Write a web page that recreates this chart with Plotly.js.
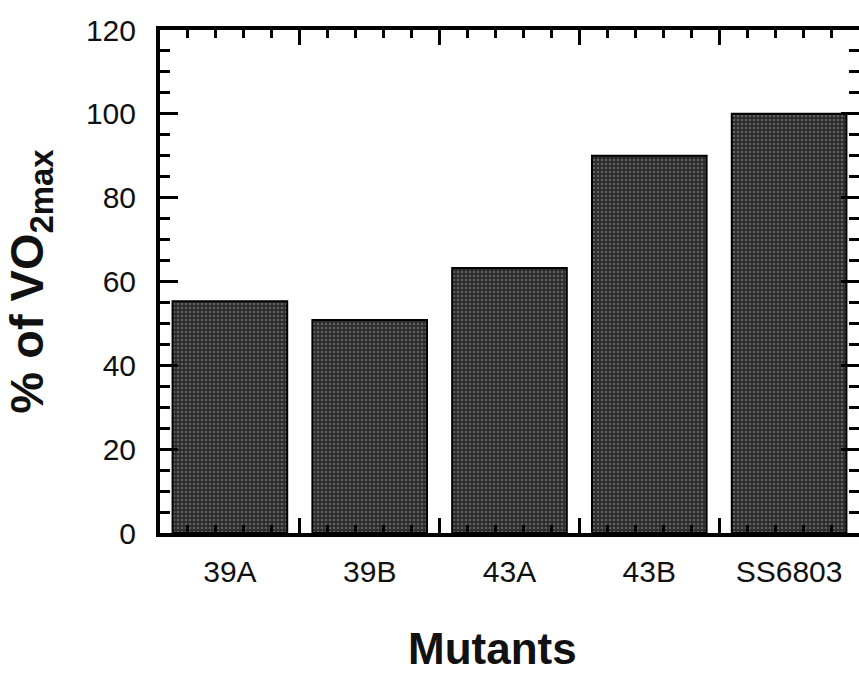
<!DOCTYPE html>
<html><head><meta charset="utf-8">
<script src="https://cdn.plot.ly/plotly-3.0.1.min.js"></script>
<style>body{margin:0;background:#fff}</style>
</head><body><div id="chart" style="width:859px;height:673px"></div>
<script>
const categories = ['39A', '39B', '43A', '43B', 'SS6803'];
const values = [55.3, 50.8, 63.2, 90.0, 100.0];
const yTitle = '% of VO<sub>2max</sub>';
const xTitle = 'Mutants';

const font = 'Liberation Sans, Arial, Helvetica, sans-serif';
const trace = {
  type: 'bar', x: categories, y: values,
  marker: {
    color: '#2e2e2e',
    line: {color: '#000', width: 2},
    pattern: {shape: '.', fgcolor: '#606060', bgcolor: '#2b2b2b', size: 4, solidity: 0.35, fillmode: 'replace'}
  },
  width: 0.82, hoverinfo: 'skip'
};
const dummy = {type: 'scatter', x: [0], y: [0], xaxis: 'x2', mode: 'none', showlegend: false, hoverinfo: 'skip'};
const layout = {
  width: 859, height: 673,
  margin: {l: 160, r: 0, t: 30, b: 140},
  paper_bgcolor: '#fff', plot_bgcolor: '#fff',
  showlegend: false,
  font: {family: font, color: '#111'},
  xaxis: {
    type: 'category', range: [-0.5, 4.5], ticks: '', showline: false,
    tickfont: {size: 30, family: font}, ticklabelstandoff: 18, fixedrange: true
  },
  xaxis2: {
    overlaying: 'x', anchor: 'y', side: 'bottom', range: [-0.5, 4.5],
    showticklabels: false, showgrid: false, zeroline: false,
    showline: true, linewidth: 4, linecolor: '#000', mirror: 'ticks',
    ticks: 'inside', tick0: 0.5, dtick: 1, ticklen: 15, tickwidth: 3, tickcolor: '#000',
    minor: {ticks: 'inside', dtick: 0.2, tick0: 0.5, ticklen: 8, tickwidth: 3, tickcolor: '#000', showgrid: false},
    layer: 'above traces'
  },
  yaxis: {
    range: [0, 120], tick0: 0, dtick: 20, showgrid: false, zeroline: false,
    showline: true, linewidth: 4, linecolor: '#000', mirror: 'ticks',
    ticks: 'inside', ticklen: 18, tickwidth: 3, tickcolor: '#000',
    minor: {ticks: 'inside', dtick: 5, ticklen: 10, tickwidth: 3, tickcolor: '#000', showgrid: false},
    tickfont: {size: 30, family: font}, ticklabelstandoff: 14,
    title: {text: yTitle, font: {size: 47, family: font, weight: 'bold'}, standoff: 32},
    layer: 'above traces'
  },
  annotations: [{
    text: xTitle, xref: 'paper', yref: 'paper', x: 0.475, y: 0, yshift: -115,
    xanchor: 'center', yanchor: 'middle', showarrow: false,
    font: {size: 44, family: font, weight: 'bold', color: '#111'}
  }]
};
Plotly.newPlot('chart', [trace, dummy], layout, {staticPlot: true});
</script></body></html>
